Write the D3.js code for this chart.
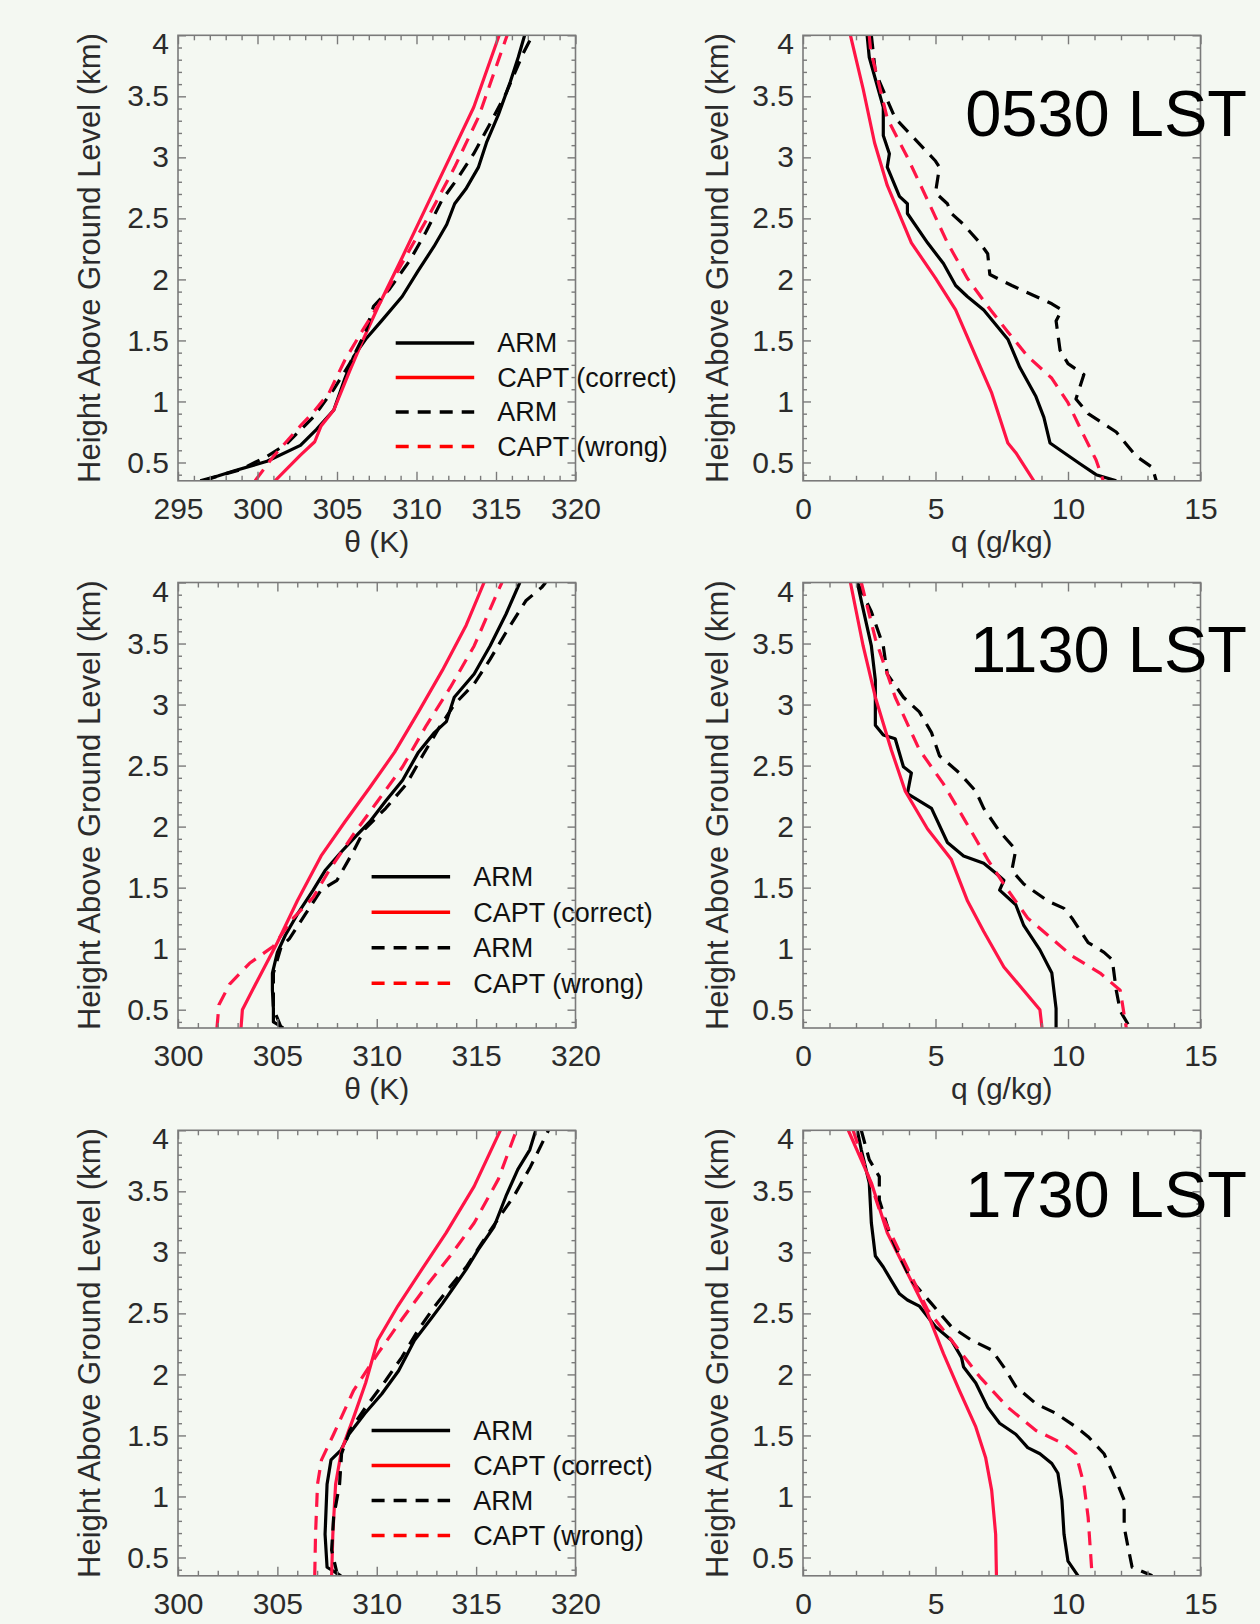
<!DOCTYPE html>
<html lang="en">
<head>
<meta charset="utf-8">
<title>ARM vs CAPT profiles</title>
<style>
	body { margin: 0; background: #f4f8f2; }
	svg { display: block; font-family: "Liberation Sans", Arial, Helvetica, sans-serif; }
	.frame { fill: none; stroke: #7a7a7a; stroke-width: 1.6; }
	.tick line { stroke: #7a7a7a; stroke-width: 1.4; }
	.tick text { fill: #2b2b2b; font-size: 30px; }
	.domain { display: none; }
	.prof { fill: none; stroke-width: 3.2; stroke-linejoin: round; stroke-linecap: butt; }
</style>
</head>
<body>
<svg id="fig" width="1260" height="1624"></svg>
<script src="https://d3js.org/d3.v7.min.js"></script>
<script>
"use strict";

// each profile is a list of [value, height above ground (km)]
// 0530 LST, potential temperature (K)
var th05Arm = [[296.4,0.35],[297.5,0.39],[298.5,0.43],[300.6,0.51],[302.7,0.64],[303.7,0.77],[304.8,0.93],[305.5,1.19],[306.05,1.37],[306.8,1.51],[307.8,1.66],[309.1,1.86],[310.1,2.07],[311.1,2.27],[311.9,2.45],[312.4,2.62],[313.1,2.74],[313.9,2.92],[314.4,3.12],[315.15,3.35],[315.9,3.62],[316.4,3.82],[316.8,4.0]];
var th05Capt = [[301.1,0.35],[302.7,0.56],[303.6,0.67],[304.0,0.8],[304.8,0.93],[305.8,1.25],[306.55,1.48],[307.6,1.78],[309.1,2.18],[310.6,2.59],[312.1,3.0],[313.6,3.41],[315.2,4.0]];
var th05ArmDash = [[296.6,0.35],[297.8,0.4],[298.9,0.44],[300.6,0.55],[301.8,0.65],[303.5,0.87],[304.8,1.1],[305.8,1.31],[306.8,1.57],[307.3,1.78],[308.3,1.92],[309.6,2.16],[310.6,2.39],[311.6,2.65],[312.6,2.83],[313.6,3.03],[314.6,3.27],[315.65,3.53],[316.7,3.85],[317.3,4.0]];
var th05CaptWrong = [[299.85,0.35],[301.0,0.55],[302.7,0.8],[303.5,0.91],[304.5,1.07],[305.5,1.34],[306.55,1.57],[307.8,1.83],[309.3,2.18],[310.85,2.54],[312.4,2.92],[313.9,3.33],[315.7,4.0]];

// 0530 LST, specific humidity (g/kg)
var q05Arm = [[2.42,4.0],[2.5,3.82],[3.03,3.41],[3.03,3.18],[3.26,3.03],[3.18,2.92],[3.64,2.68],[3.94,2.62],[3.94,2.54],[4.7,2.3],[5.3,2.13],[5.76,1.95],[6.2,1.86],[6.82,1.75],[7.73,1.51],[8.18,1.28],[8.79,1.04],[9.09,0.87],[9.32,0.66],[9.85,0.58],[10.45,0.49],[11.06,0.4],[11.82,0.35]];
var q05Capt = [[1.79,4.0],[2.27,3.56],[2.7,3.12],[3.18,2.77],[4.09,2.3],[5.0,2.01],[5.76,1.75],[6.52,1.37],[7.12,1.07],[7.73,0.66],[8.03,0.58],[8.71,0.35]];
var q05ArmDash = [[2.58,4.0],[2.73,3.7],[3.18,3.47],[3.48,3.32],[4.09,3.18],[5.0,2.97],[5.15,2.92],[5.0,2.71],[5.45,2.62],[5.6,2.54],[6.06,2.45],[6.67,2.3],[6.97,2.21],[7.05,2.04],[7.88,1.95],[8.79,1.86],[9.39,1.8],[9.77,1.75],[9.55,1.66],[9.7,1.42],[10.0,1.31],[10.6,1.22],[10.3,1.02],[10.76,0.9],[11.82,0.75],[12.58,0.55],[13.18,0.46],[13.33,0.35]];
var q05CaptWrong = [[2.5,4.0],[2.55,3.88],[3.18,3.32],[3.94,3.0],[4.7,2.65],[5.45,2.3],[6.2,2.01],[6.97,1.78],[7.73,1.57],[8.48,1.37],[9.39,1.19],[10.0,0.99],[10.6,0.72],[11.06,0.52],[11.33,0.35]];

// 1130 LST, potential temperature (K)
var th11Arm = [[305.3,0.35],[304.8,0.4],[304.8,0.51],[304.75,0.66],[304.75,0.8],[305.0,0.97],[305.4,1.11],[306.0,1.28],[306.8,1.48],[307.4,1.64],[308.2,1.79],[309.0,1.93],[309.65,2.04],[310.45,2.21],[311.3,2.38],[312.1,2.61],[312.9,2.77],[313.5,2.86],[313.9,3.06],[314.9,3.25],[315.7,3.48],[316.5,3.74],[317.2,4.0]];
var th11Capt = [[303.17,0.35],[303.24,0.5],[304.0,0.74],[305.0,1.05],[306.0,1.39],[307.2,1.76],[308.4,2.04],[309.65,2.32],[310.9,2.61],[312.1,2.94],[313.3,3.28],[314.5,3.65],[315.4,4.0]];
var th11ArmDash = [[305.2,0.35],[304.8,0.51],[304.8,0.8],[305.2,1.02],[305.6,1.08],[306.4,1.28],[307.2,1.48],[308.0,1.56],[308.8,1.79],[309.4,1.98],[310.45,2.15],[311.5,2.35],[312.3,2.58],[313.1,2.8],[313.9,3.0],[314.9,3.17],[315.7,3.37],[316.5,3.59],[317.5,3.85],[318.3,3.96],[318.5,4.0]];
var th11CaptWrong = [[301.96,0.35],[302.06,0.54],[302.6,0.71],[303.6,0.88],[304.8,1.02],[305.8,1.25],[306.8,1.42],[307.6,1.64],[308.8,1.93],[310.05,2.21],[311.3,2.49],[312.5,2.83],[313.7,3.14],[314.9,3.48],[316.1,3.93],[316.3,4.0]];

// 1130 LST, specific humidity (g/kg)
var q11Arm = [[2.05,4.0],[2.2,3.85],[2.58,3.48],[2.73,3.2],[2.73,2.83],[3.03,2.75],[3.48,2.72],[3.79,2.49],[4.09,2.44],[3.94,2.27],[4.85,2.15],[5.45,1.87],[6.06,1.76],[6.82,1.7],[7.27,1.62],[7.58,1.56],[7.42,1.48],[8.03,1.36],[8.33,1.19],[8.94,0.99],[9.39,0.8],[9.55,0.51],[9.55,0.35]];
var q11Capt = [[1.79,4.0],[2.27,3.48],[2.73,3.06],[3.33,2.63],[3.86,2.29],[4.7,1.98],[5.6,1.73],[6.21,1.39],[6.82,1.14],[7.58,0.85],[8.94,0.5],[9.02,0.35]];
var q11ArmDash = [[2.05,4.0],[2.58,3.76],[3.03,3.48],[3.18,3.25],[3.79,3.06],[4.39,2.94],[4.85,2.77],[5.15,2.58],[5.9,2.44],[6.52,2.29],[6.82,2.15],[7.42,1.96],[8.03,1.81],[7.88,1.64],[8.33,1.53],[9.24,1.39],[9.85,1.33],[10.15,1.25],[10.76,1.05],[11.36,0.97],[11.67,0.91],[11.82,0.66],[11.97,0.49],[12.35,0.35]];
var q11CaptWrong = [[2.2,4.0],[2.73,3.54],[3.48,3.06],[4.39,2.63],[5.3,2.35],[6.06,2.07],[6.97,1.73],[7.73,1.48],[8.48,1.25],[9.24,1.11],[10.15,0.94],[11.21,0.8],[11.97,0.66],[12.2,0.35]];

// 1730 LST, potential temperature (K)
var th17Arm = [[308.2,0.35],[307.5,0.42],[307.4,0.69],[307.5,1.1],[307.7,1.3],[308.2,1.38],[308.6,1.51],[309.4,1.68],[310.25,1.84],[311.1,2.03],[311.9,2.28],[312.7,2.45],[313.3,2.58],[313.9,2.72],[314.5,2.86],[315.1,3.02],[315.9,3.21],[316.5,3.46],[317.1,3.68],[317.7,3.84],[318.0,4.0]];
var th17Capt = [[307.73,0.35],[307.79,0.69],[307.93,1.1],[308.23,1.38],[308.84,1.65],[309.44,1.93],[310.05,2.28],[311.06,2.56],[312.27,2.86],[313.49,3.16],[314.9,3.54],[316.22,4.0]];
var th17ArmDash = [[308.03,0.35],[307.73,0.56],[307.83,0.83],[308.13,1.1],[308.23,1.35],[308.64,1.54],[309.44,1.73],[310.45,1.95],[311.26,2.14],[312.07,2.36],[312.88,2.55],[313.7,2.72],[314.5,2.88],[315.3,3.08],[316.3,3.32],[316.9,3.46],[317.73,3.7],[318.64,4.0]];
var th17CaptWrong = [[306.88,0.35],[306.92,0.69],[307.02,1.1],[307.22,1.3],[307.83,1.51],[308.84,1.87],[310.05,2.17],[311.26,2.45],[312.48,2.72],[313.69,2.97],[314.9,3.24],[316.12,3.6],[317.03,4.0]];

// 1730 LST, specific humidity (g/kg)
var q17Arm = [[2.05,4.0],[2.2,3.84],[2.5,3.57],[2.58,3.24],[2.73,2.97],[3.03,2.88],[3.33,2.77],[3.64,2.66],[3.94,2.61],[4.39,2.56],[5.0,2.39],[5.6,2.28],[5.98,2.14],[6.06,2.06],[6.52,1.93],[6.97,1.73],[7.42,1.6],[8.03,1.51],[8.48,1.4],[8.94,1.35],[9.39,1.27],[9.62,1.19],[9.77,0.97],[9.85,0.69],[10.0,0.47],[10.38,0.35]];
var q17Capt = [[1.71,4.0],[2.58,3.57],[3.18,3.16],[3.94,2.83],[4.7,2.5],[5.3,2.17],[5.9,1.87],[6.52,1.57],[6.89,1.32],[7.12,1.05],[7.27,0.69],[7.3,0.35]];
var q17ArmDash = [[2.2,4.0],[2.5,3.76],[2.88,3.62],[2.88,3.43],[3.26,3.16],[3.64,2.97],[4.09,2.77],[4.85,2.58],[5.6,2.39],[6.36,2.28],[7.12,2.2],[7.58,2.06],[8.03,1.9],[8.79,1.76],[9.55,1.68],[10.3,1.57],[10.76,1.49],[11.36,1.35],[11.82,1.13],[12.12,0.97],[12.12,0.75],[12.27,0.58],[12.42,0.42],[13.18,0.35]];
var q17CaptWrong = [[1.89,4.0],[2.88,3.35],[3.79,2.94],[4.7,2.53],[5.6,2.28],[6.67,1.98],[7.73,1.73],[8.79,1.54],[9.85,1.43],[10.3,1.35],[10.6,1.1],[10.76,0.83],[10.91,0.35]];

var times = ["0530 LST", "1130 LST", "1730 LST"];
var legendNames = ["ARM", "CAPT (correct)", "ARM", "CAPT (wrong)"];
var thetaDomains = [[295, 320], [300, 320], [300, 320]];
var qDomain = [0, 15];
var heightDomain = [0.35, 4];
var heightTicks = [0.5, 1, 1.5, 2, 2.5, 3, 3.5, 4];

var thetaRows = [
	[th05Arm, th05Capt, th05ArmDash, th05CaptWrong],
	[th11Arm, th11Capt, th11ArmDash, th11CaptWrong],
	[th17Arm, th17Capt, th17ArmDash, th17CaptWrong]
];
var qRows = [
	[q05Arm, q05Capt, q05ArmDash, q05CaptWrong],
	[q11Arm, q11Capt, q11ArmDash, q11CaptWrong],
	[q17Arm, q17Capt, q17ArmDash, q17CaptWrong]
];

// layout
var colX = [178, 803];
var rowY = [35.3, 582.5, 1130.3];
var panelW = 397.5, panelH = 445.5;
var legX = [395.7, 371.6, 371.6];
var legY = [342.9, 876.8, 1430.5];
var legStep = [34.5, 35.5, 35];
var lstBase = [136, 672, 1217];

var red = "#ff1446";
var styles = [
	{ color: "#000", dash: null, legColor: "#000" },
	{ color: red, dash: null, legColor: "#ff0000" },
	{ color: "#000", dash: "14,9", legColor: "#000" },
	{ color: red, dash: "14,9", legColor: "#ff0000" }
];

var svg = d3.select("#fig");
svg.append("rect").attr("width", 1260).attr("height", 1624).attr("fill", "#f4f8f2");

function drawPanel(x0, y0, xDom, series, xTitle, id) {
	var x = d3.scaleLinear().domain(xDom).range([0, panelW]);
	var y = d3.scaleLinear().domain(heightDomain).range([panelH, 0]);
	var g = svg.append("g").attr("transform", "translate(" + x0 + "," + y0 + ")");

	g.append("clipPath").attr("id", id)
		.append("rect").attr("width", panelW).attr("height", panelH);

	var line = d3.line().x(function(d){ return x(d[0]); }).y(function(d){ return y(d[1]); });

	series.forEach(function(s, i){
		g.append("path")
			.datum(s)
			.attr("class", "prof")
			.attr("clip-path", "url(#" + id + ")")
			.attr("stroke", styles[i].color)
			.attr("stroke-dasharray", styles[i].dash)
			.attr("d", line);
	});

	var xMajor = d3.range(xDom[0], xDom[1] + 0.5, 5);
	var xMinor = d3.range(xDom[0], xDom[1] + 0.5, 1).filter(function(v){ return xMajor.indexOf(v) < 0; });
	var yMinor = d3.range(4, 41).map(function(v){ return v / 10; })
		.filter(function(v){ return heightTicks.indexOf(v) < 0; });

	// bottom
	g.append("g").attr("transform", "translate(0," + panelH + ")")
		.call(d3.axisBottom(x).tickValues(xMajor).tickSize(-9).tickPadding(17).tickFormat(d3.format("d")));
	g.append("g").attr("transform", "translate(0," + panelH + ")")
		.call(d3.axisBottom(x).tickValues(xMinor).tickSize(-5).tickFormat(""));
	// top
	g.append("g").call(d3.axisTop(x).tickValues(xMajor).tickSize(-9).tickFormat(""));
	g.append("g").call(d3.axisTop(x).tickValues(xMinor).tickSize(-5).tickFormat(""));
	// left
	var left = g.append("g")
		.call(d3.axisLeft(y).tickValues(heightTicks).tickSize(-8).tickPadding(9).tickFormat(function(d){ return String(d); }));
	left.selectAll(".tick text").filter(function(d){ return d === 4; }).attr("y", 9);
	g.append("g").call(d3.axisLeft(y).tickValues(yMinor).tickSize(-4).tickFormat(""));
	// right
	g.append("g").attr("transform", "translate(" + panelW + ",0)")
		.call(d3.axisRight(y).tickValues(heightTicks).tickSize(-8).tickFormat(""));
	g.append("g").attr("transform", "translate(" + panelW + ",0)")
		.call(d3.axisRight(y).tickValues(yMinor).tickSize(-4).tickFormat(""));

	g.append("rect").attr("class", "frame").attr("width", panelW).attr("height", panelH);

	g.append("text")
		.attr("transform", "translate(" + (x0 < 500 ? -78 : -75) + "," + (panelH / 2) + ") rotate(-90)")
		.attr("text-anchor", "middle")
		.attr("font-size", 31)
		.attr("fill", "#2b2b2b")
		.text("Height Above Ground Level (km)");

	if (xTitle) {
		g.append("text")
			.attr("x", panelW / 2)
			.attr("y", panelH + 71)
			.attr("text-anchor", "middle")
			.attr("font-size", 30)
			.attr("fill", "#2b2b2b")
			.text(xTitle);
	}
	return g;
}

for (var r = 0; r < 3; r++) {
	drawPanel(colX[0], rowY[r], thetaDomains[r], thetaRows[r], r < 2 ? "\u03b8 (K)" : null, "clipT" + r);
	drawPanel(colX[1], rowY[r], qDomain, qRows[r], r < 2 ? "q (g/kg)" : null, "clipQ" + r);

	// legend on the theta panel
	var leg = svg.append("g");
	legendNames.forEach(function(name, i){
		var ly = legY[r] + i * legStep[r];
		leg.append("line")
			.attr("x1", legX[r]).attr("x2", legX[r] + 78.5)
			.attr("y1", ly).attr("y2", ly)
			.attr("stroke", styles[i].legColor)
			.attr("stroke-width", 3.5)
			.attr("stroke-dasharray", styles[i].dash ? "13,9" : null);
		leg.append("text")
			.attr("x", legX[r] + 101.6)
			.attr("y", ly + 9.5)
			.attr("font-size", 27)
			.attr("fill", "#111")
			.text(name);
	});

	svg.append("text")
		.attr("x", 1247)
		.attr("y", lstBase[r])
		.attr("text-anchor", "end")
		.attr("font-size", 65)
		.attr("fill", "#000")
		.text(times[r]);
}
</script>
</body>
</html>
